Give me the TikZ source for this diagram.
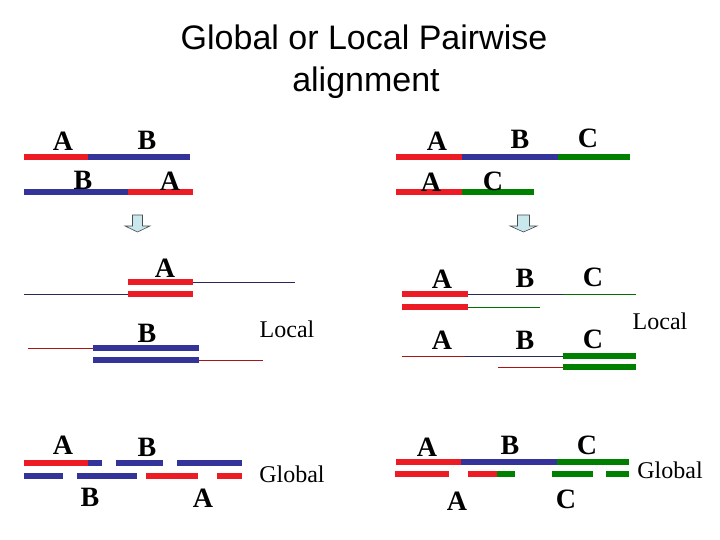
\documentclass[tikz,border=0pt]{standalone}
\usepackage{fontspec}
\setmainfont{Liberation Serif}
\newfontfamily\titlefont{Liberation Sans}
\definecolor{segred}{RGB}{237,28,36}
\definecolor{segblue}{RGB}{51,51,153}
\definecolor{seggreen}{RGB}{0,128,0}
\definecolor{thinblue}{RGB}{40,40,90}
\definecolor{thinred}{RGB}{170,20,20}
\definecolor{thingreen}{RGB}{0,110,0}
\definecolor{arrowfill}{RGB}{200,232,238}
\tikzset{
  seg/.style={line width=6pt, line cap=butt},
  thin/.style={line width=1pt},
  lett/.style={font=\fontsize{28}{30}\selectfont\bfseries, inner sep=0pt},
  lbl/.style={font=\fontsize{24}{26}\selectfont, inner sep=0pt},
  downarrow/.style={draw=black!70, fill=arrowfill, line width=0.6pt}
}
\begin{document}
\begin{tikzpicture}[x=1pt,y=-1pt]
\useasboundingbox (0,0) rectangle (720,540);
% title
\node[font=\titlefont\fontsize{34}{40}\selectfont, anchor=base, inner sep=0pt] (t1) at (364,50) {Global or Local Pairwise};
\node[font=\titlefont\fontsize{34}{40}\selectfont, anchor=base, inner sep=0pt] (t2) at (366,92) {alignment};

% ===== Left top =====
\draw[seg, segred] (24,157) -- (88,157);
\draw[seg, segblue] (88,157) -- (190,157);
\draw[seg, segblue] (24,192) -- (128,192);
\draw[seg, segred] (128,192) -- (193,192);
\node[lett] (la1) at (63,141) {A};
\node[lett] (lb1) at (147,140) {B};
\node[lett] (lb2) at (83,180) {B};
\node[lett] (la2) at (170,181) {A};
\draw[downarrow] (132.5,215) -- (142.5,215) -- (142.5,226) -- (150,226) -- (137.5,232) -- (125,226) -- (132.5,226) -- cycle;

% ===== Right top =====
\draw[seg, segred] (396,157) -- (462,157);
\draw[seg, segblue] (462,157) -- (558,157);
\draw[seg, seggreen] (558,157) -- (630,157);
\draw[seg, segred] (396,192) -- (462,192);
\draw[seg, seggreen] (462,192) -- (534,192);
\node[lett] (ra1) at (437,141) {A};
\node[lett] (rb1) at (520,139) {B};
\node[lett] (rc1) at (588,138) {C};
\node[lett] (ra2) at (431,182) {A};
\node[lett] (rc2) at (493,181) {C};
\draw[downarrow] (517.5,215) -- (529.5,215) -- (529.5,226) -- (537,226) -- (523.5,232) -- (510,226) -- (517.5,226) -- cycle;

% ===== Left local =====
\node[lett] (lla) at (165,268) {A};
\draw[seg, segred] (128,282) -- (193,282);
\draw[seg, segred] (128,294) -- (193,294);
\draw[thin, thinblue] (193,282) -- (295,282);
\draw[thin, thinblue] (24,294) -- (128,294);
\node[lett] (llb) at (147,333) {B};
\draw[seg, segblue] (93,348) -- (199,348);
\draw[seg, segblue] (93,360) -- (199,360);
\draw[thin, thinred] (28,348) -- (93,348);
\draw[thin, thinred] (199,360) -- (263,360);
\node[lbl] (llocal) at (287,329) {Local};

% ===== Right local =====
\node[lett] (rla1) at (442,279) {A};
\node[lett] (rlb1) at (525,278) {B};
\node[lett] (rlc1) at (593,277) {C};
\draw[seg, segred] (402,294) -- (468,294);
\draw[seg, segred] (402,307) -- (468,307);
\draw[thin, thinblue] (468,294) -- (563,294);
\draw[thin, thingreen] (563,294) -- (636,294);
\draw[thin, thingreen] (468,307) -- (540,307);
\node[lbl] (rlocal) at (660,321) {Local};
\node[lett] (rla2) at (442,340) {A};
\node[lett] (rlb2) at (525,340) {B};
\node[lett] (rlc2) at (593,339) {C};
\draw[thin, thinred] (402,356) -- (465,356);
\draw[thin, thinblue] (465,356) -- (563,356);
\draw[seg, seggreen] (563,356) -- (636,356);
\draw[seg, seggreen] (563,367) -- (636,367);
\draw[thin, thinred] (498,367) -- (563,367);

% ===== Left global =====
\node[lett] (lga1) at (63,445) {A};
\node[lett] (lgb1) at (147,447) {B};
\draw[seg, segred] (24,463) -- (88,463);
\draw[seg, segblue] (88,463) -- (102,463);
\draw[seg, segblue] (116,463) -- (163,463);
\draw[seg, segblue] (177,463) -- (242,463);
\draw[seg, segblue] (24,476) -- (63,476);
\draw[seg, segblue] (77,476) -- (137,476);
\draw[seg, segred] (146,476) -- (198,476);
\draw[seg, segred] (217,476) -- (242,476);
\node[lett] (lgb2) at (90,497) {B};
\node[lett] (lga2) at (203,498) {A};
\node[lbl] (lglobal) at (292,474) {Global};

% ===== Right global =====
\node[lett] (rga1) at (427,447) {A};
\node[lett] (rgb1) at (510,445) {B};
\node[lett] (rgc1) at (587,445) {C};
\draw[seg, segred] (396,462) -- (461,462);
\draw[seg, segblue] (461,462) -- (557,462);
\draw[seg, seggreen] (557,462) -- (629,462);
\draw[seg, segred] (395,474) -- (449,474);
\draw[seg, segred] (468,474) -- (497,474);
\draw[seg, seggreen] (497,474) -- (515,474);
\draw[seg, seggreen] (552,474) -- (593,474);
\draw[seg, seggreen] (606,474) -- (629,474);
\node[lett] (rga2) at (457,501) {A};
\node[lett] (rgc2) at (566,499) {C};
\node[lbl] (rglobal) at (670,470) {Global};
\end{tikzpicture}
\end{document}
